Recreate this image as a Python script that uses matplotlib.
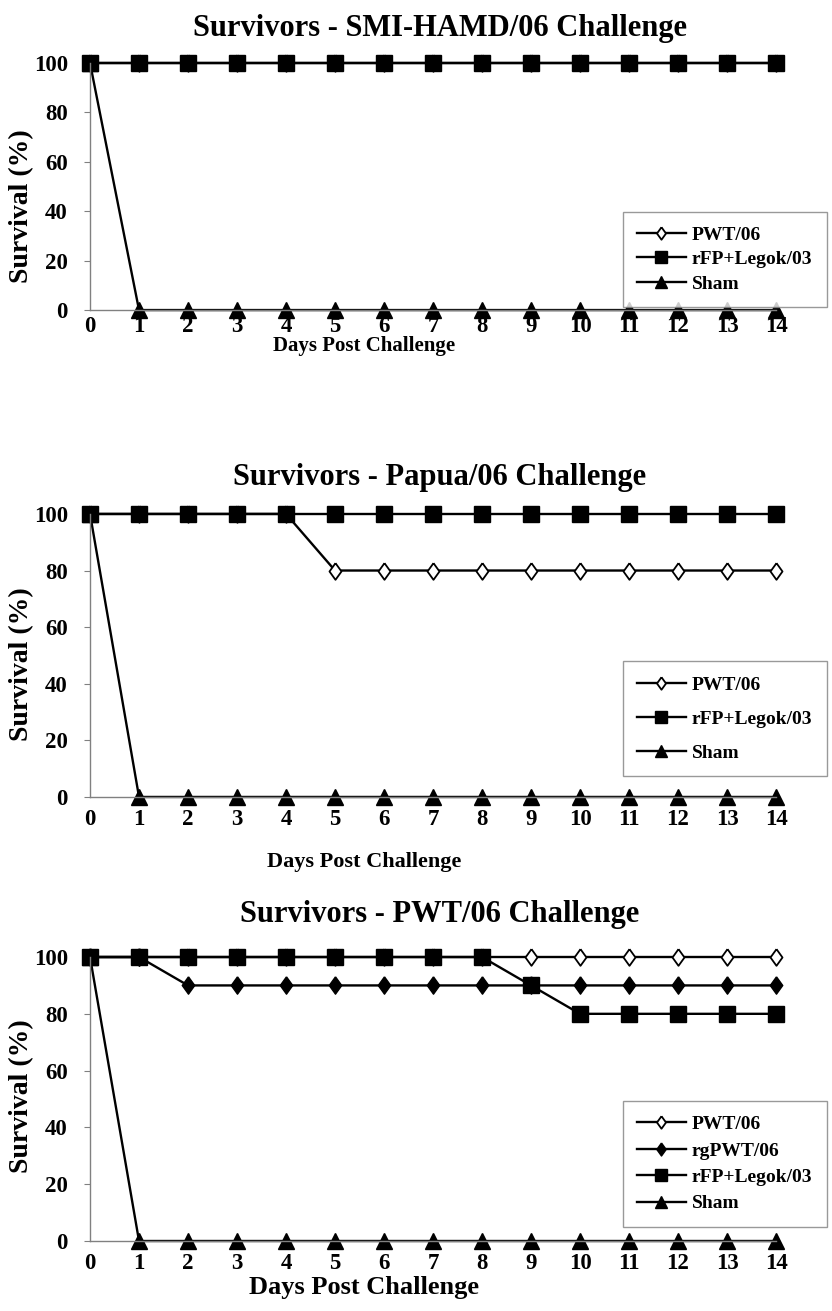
import matplotlib.pyplot as plt

plt.rcParams['font.family'] = ['Liberation Serif', 'DejaVu Serif']
plt.rcParams['font.weight'] = 'bold'

days = list(range(15))

# panel 1 - SMI-HAMD/06
p1_pwt = [100] * 15
p1_rfp = [100] * 15
p1_sham = [100] + [0] * 14

# panel 2 - Papua/06
p2_pwt = [100, 100, 100, 100, 100] + [80] * 10
p2_rfp = [100] * 15
p2_sham = [100] + [0] * 14

# panel 3 - PWT/06
p3_pwt = [100] * 15
p3_rgpwt = [100, 100] + [90] * 13
p3_rfp = [100] * 9 + [90] + [80] * 5
p3_sham = [100] + [0] * 14

titles = ['Survivors - SMI-HAMD/06 Challenge',
          'Survivors - Papua/06 Challenge',
          'Survivors - PWT/06 Challenge']

# a diamond a bit taller than wide, like the Excel one
diamond = [(0, 1), (0.72, 0), (0, -1), (-0.72, 0), (0, 1)]

styles = {
    'PWT/06': dict(marker=diamond, markersize=12, markerfacecolor='white', markeredgecolor='black', markeredgewidth=1.3),
    'rgPWT/06': dict(marker=diamond, markersize=12.5, markerfacecolor='black', markeredgecolor='black'),
    'rFP+Legok/03': dict(marker='s', markersize=12, markerfacecolor='black', markeredgecolor='black'),
    'Sham': dict(marker='^', markersize=12, markerfacecolor='black', markeredgecolor='black'),
}

panels = [
    [('PWT/06', p1_pwt), ('rFP+Legok/03', p1_rfp), ('Sham', p1_sham)],
    [('PWT/06', p2_pwt), ('rFP+Legok/03', p2_rfp), ('Sham', p2_sham)],
    [('PWT/06', p3_pwt), ('rgPWT/06', p3_rgpwt), ('rFP+Legok/03', p3_rfp), ('Sham', p3_sham)],
]

# [left, bottom, width, height] in figure fraction
boxes = [
    [0.1082, 0.7635, 0.8245, 0.1884],
    [0.1082, 0.3921, 0.8245, 0.2159],
    [0.1082, 0.0534, 0.8245, 0.2166],
]
# per-panel text placement (axes fraction)
title_y = [1.14, 1.13, 1.15]
xlabel_y = [-0.147, -0.23, -0.165]
xlabel_size = [15, 16, 19]
ylabel_y = [0.42, 0.47, 0.51]
xtick_pad = [4, 9, 9]
legend_y = [0.205, 0.276, 0.271]
legend_spacing = [0.35, 0.85, 0.45]

fig = plt.figure(figsize=(8.32, 13.11), dpi=100)

for i in range(3):
    ax = fig.add_axes(boxes[i])
    for name, vals in panels[i]:
        ax.plot(days, vals, color='black', linewidth=1.7, label=name,
                clip_on=False, **styles[name])
    ax.set_xlim(0, 14)
    ax.set_ylim(0, 100)
    ax.set_xticks(days)
    ax.set_yticks([0, 20, 40, 60, 80, 100])
    ax.tick_params(axis='x', length=0, pad=xtick_pad[i], labelsize=16.5)
    ax.tick_params(axis='y', length=4, color='gray', pad=12, labelsize=16.5)
    for s in ['top', 'right']:
        ax.spines[s].set_visible(False)
    for s in ['left', 'bottom']:
        ax.spines[s].set_color('gray')
        ax.spines[s].set_linewidth(1.0)
    ax.text(0.51, title_y[i], titles[i], transform=ax.transAxes, fontsize=22,
            fontweight='bold', ha='center', va='center')
    ax.text(0.40, xlabel_y[i], 'Days Post Challenge', transform=ax.transAxes,
            fontsize=xlabel_size[i], fontweight='bold', ha='center', va='center')
    ax.text(-0.10, ylabel_y[i], 'Survival (%)', transform=ax.transAxes,
            fontsize=20, fontweight='bold', rotation=90, ha='center', va='center')
    leg = ax.legend(loc='center right', bbox_to_anchor=(1.088, legend_y[i]),
                    bbox_transform=ax.transAxes, frameon=True,
                    fancybox=False, edgecolor='gray', handlelength=2.5,
                    borderpad=0.75, labelspacing=legend_spacing[i], handletextpad=0.3,
                    markerscale=0.75, prop={'weight': 'bold', 'size': 14})
    leg.get_frame().set_linewidth(1.0)

fig.savefig('out.png', dpi=100)
